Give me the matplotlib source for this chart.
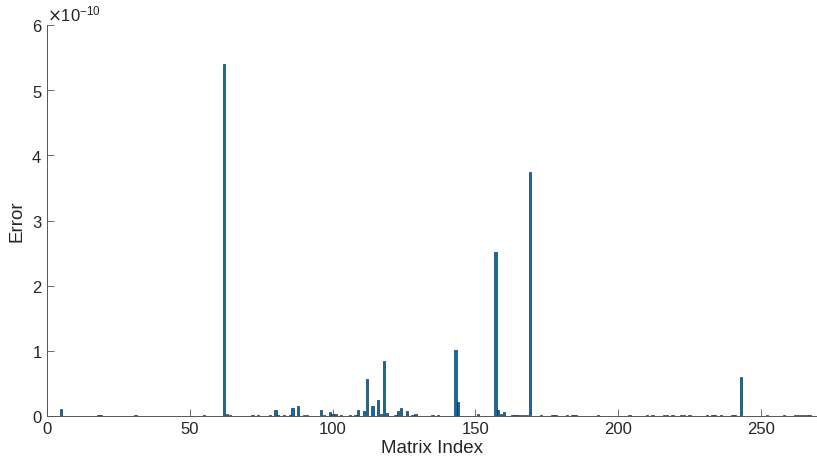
import numpy as np
import matplotlib.pyplot as plt
from matplotlib.ticker import ScalarFormatter

plt.rcParams['font.family'] = ['Liberation Sans', 'DejaVu Sans']

n_matrices = 268

# visible bars: matrix index -> error (in units of 1e-10)
big_idx = [5, 18, 63, 80, 81, 85, 86, 88, 90, 96, 99, 100, 101, 103, 108, 109, 111, 112,
           114, 116, 117, 118, 119, 123, 124, 126, 128, 129, 143, 144, 151, 157, 158,
           159, 160, 169, 243, 62]
big_err = [0.11, 0.02, 0.03, 0.097, 0.02, 0.02, 0.12, 0.16, 0.02, 0.097, 0.056, 0.035,
           0.035, 0.02, 0.02, 0.092, 0.08, 0.57, 0.15, 0.24, 0.03, 0.85, 0.05, 0.08, 0.13,
           0.07, 0.02, 0.03, 1.01, 0.21, 0.03, 2.52, 0.09, 0.035, 0.065, 3.75, 0.60, 5.40]

# barely visible bars
tiny_idx = [19, 31, 55, 64, 72, 74, 78, 83, 91, 97, 106, 122, 135, 137, 163, 164, 165,
            166, 167, 168, 173, 177, 178, 182, 184, 185, 193, 204, 210, 212, 216, 217,
            219, 222, 223, 225, 231, 233, 234, 236, 240, 241, 252, 258, 262, 263, 264,
            265, 266, 267]
tiny_err = 0.012

err = np.zeros(n_matrices)
err[np.array(tiny_idx) - 1] = tiny_err
err[np.array(big_idx) - 1] = big_err
err = err * 1e-10
idx = np.arange(1, n_matrices + 1)

fig = plt.figure(figsize=(8.17, 4.77), dpi=100)
ax = fig.add_axes([47 / 817, 60 / 477, 770 / 817, 391 / 477])

ax.bar(idx, err, width=0.8, color='#0072BD', edgecolor='#111111', linewidth=0.4)

ax.set_xlim(0, 269.6)
ax.set_ylim(0, 6e-10)
ax.set_xticks([0, 50, 100, 150, 200, 250])
ax.set_yticks(np.arange(0, 7) * 1e-10)

fmt = ScalarFormatter(useMathText=True)
fmt.set_powerlimits((-3, 3))
ax.yaxis.set_major_formatter(fmt)
ax.yaxis.get_offset_text().set_fontsize(12)
ax.yaxis.get_offset_text().set_color('#262626')

for s in ['top', 'right']:
    ax.spines[s].set_visible(False)
for s in ['left', 'bottom']:
    ax.spines[s].set_color('#555555')
    ax.spines[s].set_linewidth(0.7)

ax.tick_params(direction='in', length=5, width=0.6, colors='#555555',
               labelcolor='#262626', labelsize=12)

ax.set_xlabel('Matrix Index', fontsize=13.5, color='#262626', labelpad=2)
ax.set_ylabel('Error', fontsize=13.5, color='#262626', labelpad=4)

fig.savefig('out.png', dpi=100)
